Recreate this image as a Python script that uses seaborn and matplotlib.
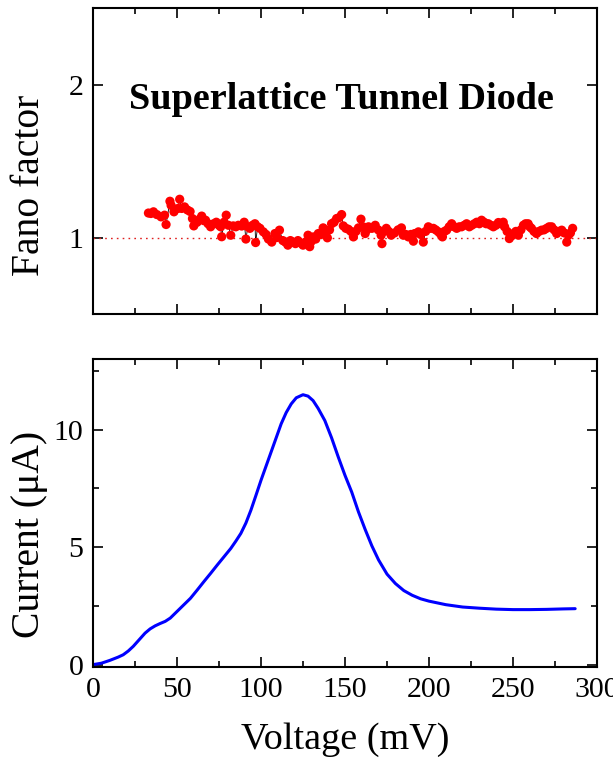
import matplotlib
matplotlib.use("Agg")
import matplotlib.pyplot as plt
import seaborn as sns
import pandas as pd
from matplotlib.ticker import MultipleLocator

# ---------------- data ----------------
fano_voltage = [33.0, 34.5, 36.0, 38.0, 40.5, 42.6, 43.5, 45.8, 46.5, 48.2, 50.6, 51.6, 52.8, 54.5,
                56.2, 57.8, 59.2, 60.0, 62.0, 63.5, 64.7, 66.0, 67.0, 68.5, 70.0, 71.8, 73.4, 75.0,
                76.0, 76.6, 78.0, 79.3, 80.6, 82.0, 83.5, 85.0, 86.5, 88.5, 90.0, 91.0, 92.2, 93.4,
                95.0, 96.4, 96.8, 98.0, 99.4, 101.4, 103.0, 104.4, 106.4, 108.3, 109.5, 111.0, 113.0,
                114.5, 116.0, 117.5, 119.0, 120.5, 122.0, 123.5, 125.0, 126.5, 128.0, 129.0, 130.0,
                131.2, 132.6, 134.1, 135.5, 137.0, 138.2, 139.5, 140.8, 142.0, 143.5, 145.0, 146.5,
                148.0, 149.0, 150.5, 152.0, 153.5, 155.0, 156.5, 158.0, 159.5, 160.8, 162.0, 163.0,
                164.0, 166.0, 168.0, 169.8, 171.5, 172.0, 173.2, 174.6, 176.0, 177.5, 179.5, 181.6,
                183.6, 184.7, 186.2, 187.7, 189.2, 190.7, 191.5, 193.7, 195.0, 196.6, 198.0, 199.6,
                201.0, 202.6, 204.0, 205.6, 207.0, 208.0, 209.2, 210.5, 212.0, 213.5, 215.0, 216.5,
                218.0, 219.4, 221.0, 222.4, 224.0, 225.4, 227.0, 228.4, 230.0, 231.3, 232.8, 234.0,
                235.3, 236.8, 238.3, 239.8, 241.3, 242.8, 244.2, 245.0, 246.5, 247.8, 249.0, 250.2,
                251.7, 253.2, 254.7, 256.2, 257.5, 259.0, 260.0, 261.0, 262.5, 264.0, 265.5, 267.0,
                268.5, 270.0, 271.5, 273.0, 274.5, 276.0, 277.5, 279.0, 280.5, 282.0, 283.0, 284.2,
                285.5]
fano_factor = [1.16, 1.157, 1.168, 1.15, 1.135, 1.146, 1.085, 1.237, 1.21, 1.168, 1.19, 1.25, 1.19, 1.20,
               1.18, 1.17, 1.124, 1.076, 1.10, 1.12, 1.14, 1.11, 1.113, 1.09, 1.07, 1.09, 1.10, 1.08,
               1.07, 1.005, 1.10, 1.146, 1.08, 1.015, 1.076, 1.07, 1.08, 1.075, 1.10, 0.99, 1.07, 1.06,
               1.08, 1.09, 0.967, 1.07, 1.06, 1.037, 1.02, 0.99, 0.97, 1.026, 1.00, 1.048, 0.98,
               0.97, 0.95, 0.98, 0.97, 0.96, 0.98, 0.965, 0.95, 0.97, 1.015, 0.94, 0.975,
               1.004, 0.99, 1.026, 1.02, 1.063, 1.04, 0.998, 1.05, 1.09, 1.10, 1.124, 1.13,
               1.15, 1.076, 1.06, 1.054, 1.04, 1.004, 1.04, 1.063, 1.12, 1.07, 1.026, 1.05,
               1.07, 1.06, 1.08, 1.05, 1.015, 0.96, 1.04, 1.06, 1.04, 1.015, 1.03, 1.05,
               1.063, 1.015, 1.02, 1.004, 1.02, 0.976, 1.026, 1.037, 1.02, 0.97, 1.04, 1.07,
               1.06, 1.06, 1.05, 1.037, 1.02, 1.004, 1.04, 1.048, 1.07, 1.09, 1.07, 1.06,
               1.07, 1.07, 1.08, 1.09, 1.07, 1.08, 1.09, 1.10, 1.09, 1.113, 1.10, 1.09,
               1.09, 1.08, 1.07, 1.08, 1.098, 1.09, 1.10, 1.07, 1.04, 0.993, 1.01, 1.026,
               1.04, 1.015, 1.05, 1.08, 1.09, 1.09, 1.07, 1.06, 1.04, 1.026, 1.04, 1.048,
               1.05, 1.06, 1.07, 1.07, 1.05, 1.026, 1.04, 1.048, 1.03, 0.97, 1.015, 1.03,
               1.06]

iv_voltage = [0, 5, 10, 15, 18, 21, 24, 27, 31, 34, 37, 40, 43, 46, 50, 54, 58, 62, 66, 70, 74, 78,
              82, 85, 88, 91, 94, 97, 100, 103, 106, 109, 112, 115, 118, 121, 125, 128, 131, 134,
              138, 142, 146, 150, 154, 158, 162, 166, 170, 175, 180, 185, 190, 195, 200, 210, 220,
              230, 240, 250, 260, 270, 280, 287]
iv_current = [0.0, 0.06, 0.18, 0.32, 0.42, 0.58, 0.78, 1.02, 1.34, 1.52, 1.65, 1.75, 1.84, 1.98, 2.26,
              2.54, 2.82, 3.17, 3.53, 3.88, 4.24, 4.59, 4.94, 5.25, 5.58, 6.02, 6.57, 7.2, 7.84, 8.44,
              9.04, 9.64, 10.24, 10.72, 11.09, 11.35, 11.48, 11.42, 11.23, 10.9, 10.38, 9.65, 8.83,
              8.05, 7.34, 6.5, 5.75, 5.05, 4.45, 3.85, 3.45, 3.15, 2.95, 2.8, 2.7, 2.55, 2.45, 2.4,
              2.36, 2.34, 2.34, 2.35, 2.37, 2.38]

x_ticks = [0, 50, 100, 150, 200, 250, 300]
fano_ticks = [1, 2]
current_ticks = [0, 5, 10]

# ---------------- style ----------------
sns.set_style("ticks")
plt.rcParams["font.family"] = ["Liberation Serif", "DejaVu Serif"]
plt.rcParams["text.color"] = "black"
plt.rcParams["axes.labelcolor"] = "black"

fig = plt.figure(figsize=(6.13, 7.62), dpi=100)
ax1 = fig.add_axes([0.1517, 0.5879, 0.8222, 0.4016])
ax2 = fig.add_axes([0.1517, 0.1247, 0.8222, 0.4042])

df_f = pd.DataFrame({"V": fano_voltage, "F": fano_factor})
df_i = pd.DataFrame({"V": iv_voltage, "I": iv_current})

# top panel
ax1.axhline(1.0, color="#e02020", lw=1.0, ls=(0, (1.2, 3.0)), zorder=1)
sns.lineplot(data=df_f, x="V", y="F", ax=ax1, color="black", lw=0.6, estimator=None,
             sort=True, zorder=2)
sns.scatterplot(data=df_f, x="V", y="F", ax=ax1, color="#ff0000", s=44, edgecolor="none",
                linewidth=0, zorder=3)
ax1.text(148, 1.9, "Superlattice Tunnel Diode", ha="center", va="center",
         fontsize=27.5, fontweight="bold", color="black")
ax1.set_xlim(0, 300)
ax1.set_ylim(0.5, 2.5)
ax1.set_yticks(fano_ticks)
ax1.set_yticklabels([str(t) for t in fano_ticks])
ax1.set_xticks(x_ticks)
ax1.set_xticklabels([])
ax1.set_ylabel("Fano factor", fontsize=28.5)
ax1.set_xlabel("")

# bottom panel
sns.lineplot(data=df_i, x="V", y="I", ax=ax2, color="#0000ff", lw=2.2, estimator=None, sort=True)
ax2.set_xlim(0, 300)
ax2.set_ylim(-0.1, 13)
ax2.set_xticks(x_ticks)
ax2.set_xticklabels([str(t) for t in x_ticks])
ax2.set_yticks(current_ticks)
ax2.set_yticklabels([str(t) for t in current_ticks])
ax2.set_ylabel("Current (μA)", fontsize=28.5)
ax2.set_xlabel("Voltage (mV)", fontsize=27.5, labelpad=14)

ax1.xaxis.set_minor_locator(MultipleLocator(25))
ax2.xaxis.set_minor_locator(MultipleLocator(25))
ax2.yaxis.set_minor_locator(MultipleLocator(2.5))
for ax in (ax1, ax2):
    ax.tick_params(which="both", direction="in", top=True, right=True, width=1.2,
                   labelsize=21.5, pad=7, colors="black", labelcolor="black")
    ax.tick_params(which="major", length=7.5)
    ax.tick_params(which="minor", length=4)
    for sp in ax.spines.values():
        sp.set_visible(True)
        sp.set_linewidth(1.5)
        sp.set_color("black")
ax1.yaxis.set_label_coords(-0.09, 0.42)
ax2.yaxis.set_label_coords(-0.09, 0.43)

fig.savefig("out.png", dpi=100)
